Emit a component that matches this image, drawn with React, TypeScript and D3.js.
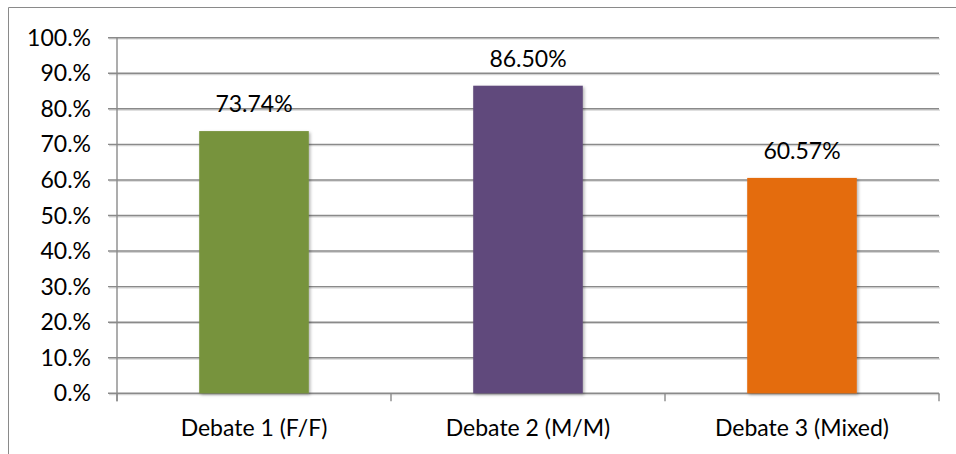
import React, { useEffect, useRef } from "react";
import * as d3 from "d3";

// chart data
const categories = ["Debate 1 (F/F)", "Debate 2 (M/M)", "Debate 3 (Mixed)"];
const values = [73.74, 86.5, 60.57];
const colors = ["#77933C", "#604A7B", "#E46C0A"];
const yTicks = [0, 10, 20, 30, 40, 50, 60, 70, 80, 90, 100];

const FONT = "Lato, 'Open Sans', sans-serif";
const FS = "23px";

const App = () => {
  const ref = useRef<SVGSVGElement>(null);

  useEffect(() => {
    const width = 956;
    const height = 454;
    const margin = { top: 37.7, left: 117, right: 17, bottom: 60.7 };

    const svg = d3.select(ref.current).attr("width", width).attr("height", height);
    svg.selectAll("*").remove();

    const defs = svg.append("defs");
    const f = defs
      .append("filter")
      .attr("id", "shadow")
      .attr("x", "-20%")
      .attr("y", "-20%")
      .attr("width", "140%")
      .attr("height", "140%");
    f.append("feDropShadow")
      .attr("dx", 1.5)
      .attr("dy", 1.5)
      .attr("stdDeviation", 1.5)
      .attr("flood-color", "#000")
      .attr("flood-opacity", 0.3);

    svg.append("rect").attr("width", width).attr("height", height).attr("fill", "#fff");

    // outer chart border (right/bottom edges run past the picture)
    svg
      .append("path")
      .attr("d", `M8.5,${height} V7.5 H${width}`)
      .attr("fill", "none")
      .attr("stroke", "#8a8a8a")
      .attr("stroke-width", 1);

    const x = d3
      .scaleBand()
      .domain(categories)
      .range([margin.left, width - margin.right])
      .paddingInner(0.6)
      .paddingOuter(0.3);

    const xb = d3
      .scaleBand()
      .domain(categories)
      .range([margin.left, width - margin.right]);

    const y = d3
      .scaleLinear()
      .domain([0, 100])
      .range([height - margin.bottom, margin.top]);

    // gridlines, with a soft shadow line underneath
    const grid = svg.append("g");
    grid
      .selectAll("line.sh")
      .data(yTicks)
      .enter()
      .append("line")
      .attr("class", "sh")
      .attr("x1", margin.left - 8)
      .attr("x2", width - margin.right + 1)
      .attr("y1", (d) => y(d) + 1.3)
      .attr("y2", (d) => y(d) + 1.3)
      .attr("stroke", "#d4d4d4")
      .attr("stroke-width", 1.2);
    grid
      .selectAll("line.gl")
      .data(yTicks)
      .enter()
      .append("line")
      .attr("class", "gl")
      .attr("x1", margin.left - 9)
      .attr("x2", width - margin.right)
      .attr("y1", (d) => y(d))
      .attr("y2", (d) => y(d))
      .attr("stroke", "#8a8a8a")
      .attr("stroke-width", 1.4);

    // y axis line
    svg
      .append("line")
      .attr("x1", margin.left)
      .attr("x2", margin.left)
      .attr("y1", y(100))
      .attr("y2", y(0) + 8)
      .attr("stroke", "#8a8a8a")
      .attr("stroke-width", 1.4);

    // y labels
    svg
      .append("g")
      .selectAll("text")
      .data(yTicks)
      .enter()
      .append("text")
      .attr("x", 91)
      .attr("y", (d) => y(d))
      .attr("dy", "0.35em")
      .attr("text-anchor", "end")
      .style("font-family", FONT)
      .style("font-size", FS)
      .attr("fill", "#000")
      .text((d) => `${d.toFixed(0)}.%`);

    // x ticks
    const tickXs = [margin.left, ...categories.map((c) => (xb(c) as number) + xb.bandwidth())];
    svg
      .append("g")
      .selectAll("line")
      .data(tickXs)
      .enter()
      .append("line")
      .attr("x1", (d) => d)
      .attr("x2", (d) => d)
      .attr("y1", y(0))
      .attr("y2", y(0) + 8)
      .attr("stroke", "#8a8a8a")
      .attr("stroke-width", 1.4);

    // bars
    svg
      .append("g")
      .selectAll("rect")
      .data(values)
      .enter()
      .append("rect")
      .attr("x", (d, i) => x(categories[i]) as number)
      .attr("y", (d) => y(d))
      .attr("width", x.bandwidth())
      .attr("height", (d) => y(0) - y(d))
      .attr("fill", (d, i) => colors[i])
      .attr("filter", "url(#shadow)");

    // data labels
    svg
      .append("g")
      .selectAll("text")
      .data(values)
      .enter()
      .append("text")
      .attr("x", (d, i) => (x(categories[i]) as number) + x.bandwidth() / 2)
      .attr("y", (d) => y(d) - 27)
      .attr("dy", "0.35em")
      .attr("text-anchor", "middle")
      .style("font-family", FONT)
      .style("font-size", FS)
      .attr("fill", "#000")
      .text((d) => `${d.toFixed(2)}%`);

    // category labels
    svg
      .append("g")
      .selectAll("text")
      .data(categories)
      .enter()
      .append("text")
      .attr("x", (d) => (xb(d) as number) + xb.bandwidth() / 2)
      .attr("y", y(0) + 35)
      .attr("dy", "0.35em")
      .attr("text-anchor", "middle")
      .style("font-family", FONT)
      .style("font-size", FS)
      .attr("fill", "#000")
      .text((d) => d);
  }, []);

  return (
    <div>
      <svg ref={ref} style={{ position: "absolute", left: 0, top: 0 }}></svg>
    </div>
  );
};

export default App;
